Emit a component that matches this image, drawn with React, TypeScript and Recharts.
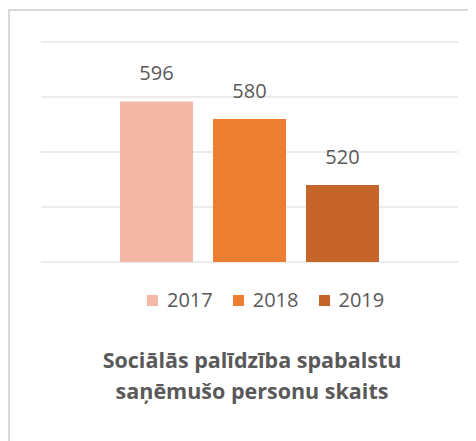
import { BarChart, Bar, XAxis, YAxis, CartesianGrid, LabelList, Legend } from 'recharts';

const years = ['2017', '2018', '2019'];
const counts = [596, 580, 520];
const colors = ['#F4B9A6', '#ED7D31', '#C5652A'];
const yTicks = [450, 500, 550, 600, 650];
const titleLines = ['Sociālās palīdzība spabalstu', 'saņēmušo personu skaits'];

const row: Record<string, string | number> = { name: 'Personas' };
years.forEach((y, i) => {
  row[y] = counts[i];
});
const data = [row];

const font = '"Open Sans", "DejaVu Sans", sans-serif';

function YearLegend() {
  return (
    <div style={{ display: 'flex', alignItems: 'center', fontFamily: font, fontSize: 20, color: '#595959' }}>
      {years.map((y, i) => (
        <div key={y} style={{ display: 'flex', alignItems: 'center', marginRight: 20 }}>
          <span style={{ width: 11, height: 11, background: colors[i], marginRight: 9, display: 'inline-block' }} />
          <span style={{ lineHeight: '22px' }}>{y}</span>
        </div>
      ))}
    </div>
  );
}

export default function App() {
  return (
    <div
      style={{
        position: 'relative',
        top: 1,
        width: 466,
        height: 440,
        borderTop: '2px solid #d9d9d9',
        borderLeft: '2px solid #d9d9d9',
        background: '#fff',
      }}
    >
      <BarChart
        width={466}
        height={320}
        data={data}
        margin={{ top: 31, right: 18, bottom: 69, left: 31 }}
        barSize={73}
        barGap={20}
      >
        <CartesianGrid vertical={false} stroke="#d9d9d9" strokeWidth={1} />
        <XAxis dataKey="name" hide />
        <YAxis hide domain={[450, 650]} ticks={yTicks} />
        <Legend
          verticalAlign="middle"
          layout="horizontal"
          wrapperStyle={{ top: 278, left: 137, width: 320 }}
          content={() => <YearLegend />}
        />
        {years.map((y, i) => (
          <Bar key={y} dataKey={y} fill={colors[i]} isAnimationActive={false}>
            <LabelList
              dataKey={y}
              position="top"
              offset={21}
              fill="#595959"
              style={{ fontFamily: font, fontSize: 20 }}
            />
          </Bar>
        ))}
      </BarChart>
      <div
        style={{
          marginTop: 13,
          marginLeft: 18,
          width: 448,
          textAlign: 'center',
          fontFamily: font,
          fontWeight: 700,
          fontSize: 21.5,
          lineHeight: '31px',
          color: '#595959',
        }}
      >
        {titleLines.map((l) => (
          <div key={l}>{l}</div>
        ))}
      </div>
    </div>
  );
}
